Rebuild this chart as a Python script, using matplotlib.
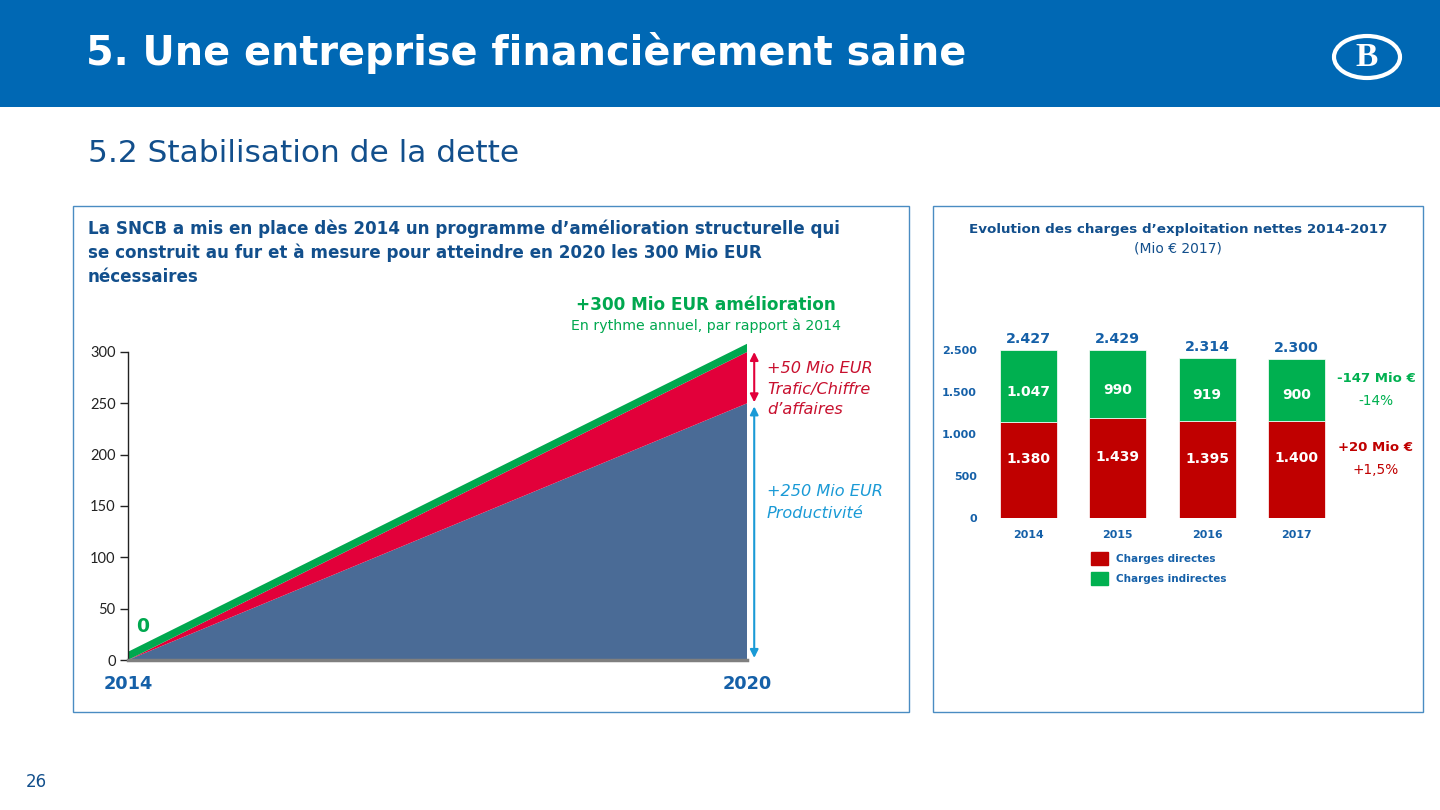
import matplotlib
matplotlib.use("Agg")
import matplotlib.pyplot as plt
from matplotlib.patches import Rectangle, Ellipse, Patch
import numpy as np

plt.rcParams['font.family'] = ['DejaVu Sans']

# ---------------- data ----------------
years_left = [2014, 2020]
productivite = [0, 250]
trafic = [0, 50]
bande = [8, 8]
left_yticks = [0, 50, 100, 150, 200, 250, 300]

years_right = ['2014', '2015', '2016', '2017']
directes = [1380, 1439, 1395, 1400]
indirectes = [1047, 990, 919, 900]
totaux = [2427, 2429, 2314, 2300]
right_tick_labels = ['0', '500', '1.000', '1.500', '2.500']

W, H = 1440, 810
fig = plt.figure(figsize=(W / 100, H / 100), dpi=100)
fig.patch.set_facecolor('white')

def fx(x):
    return x / W

def fy(y):
    return 1 - y / H

def axrect(l, t, r, b):
    return [fx(l), fy(b), (r - l) / W, (b - t) / H]

DARK = '#124f8c'
BORDER = '#4a8cc2'

# ---------------- header ----------------
fig.patches.append(Rectangle((0, fy(107)), 1, 107 / H, transform=fig.transFigure,
                             facecolor='#0068b4', edgecolor='none', zorder=0))
fig.text(fx(86), fy(53), '5. Une entreprise financièrement saine', color='white',
         fontsize=28.6, fontweight='bold', va='center', ha='left')
fig.patches.append(Ellipse((fx(1367), fy(57)), 66 / W, 42 / H, transform=fig.transFigure,
                           facecolor='none', edgecolor='white', linewidth=3, zorder=2))
fig.text(fx(1367), fy(58), 'B', color='white', fontsize=24, fontweight='bold',
         family=['Liberation Serif', 'DejaVu Serif'], ha='center', va='center')

fig.text(fx(88), fy(153), '5.2 Stabilisation de la dette', color=DARK,
         fontsize=22.5, va='center', ha='left')

# boxes
fig.patches.append(Rectangle((fx(73), fy(712)), (909 - 73) / W, (712 - 206) / H,
                             transform=fig.transFigure, facecolor='none',
                             edgecolor=BORDER, linewidth=1))
fig.patches.append(Rectangle((fx(933), fy(712)), (1423 - 933) / W, (712 - 206) / H,
                             transform=fig.transFigure, facecolor='none',
                             edgecolor=BORDER, linewidth=1))

for i, t in enumerate(["La SNCB a mis en place dès 2014 un programme d’amélioration structurelle qui",
                       "se construit au fur et à mesure pour atteindre en 2020 les 300 Mio EUR",
                       "nécessaires"]):
    fig.text(fx(88), fy(229 + 24 * i), t, color=DARK, fontsize=12.1, fontweight='bold',
             va='center')

fig.text(fx(36), fy(782), '26', color=DARK, fontsize=12, ha='center', va='center')

# ---------------- left chart ----------------
axL = fig.add_axes(axrect(128, 352, 747, 660))
blue_area = '#4a6b96'
red_area = '#e2003a'
green_area = '#00a84f'
axL.stackplot(years_left, productivite, trafic, bande,
              colors=[blue_area, red_area, green_area], linewidth=0)
for coll in axL.collections:
    coll.set_clip_on(False)
axL.set_xlim(2014, 2020)
axL.set_ylim(0, 300)
axL.set_yticks(left_yticks)
axL.tick_params(axis='y', length=6, width=1, colors='#222222', labelsize=10.5, pad=3)
for lab in axL.get_yticklabels():
    lab.set_family(['Lato', 'DejaVu Sans'])
axL.set_xticks(years_left)
axL.set_xticklabels([str(y) for y in years_left])
axL.tick_params(axis='x', length=0, pad=11, labelsize=12.8, labelcolor='#1560a8')
for lab in axL.get_xticklabels():
    lab.set_fontweight('bold')
for s in ['top', 'right']:
    axL.spines[s].set_visible(False)
axL.spines['left'].set_color('#222222')
axL.spines['left'].set_linewidth(1)
axL.spines['bottom'].set_color('#7f7f7f')
axL.spines['bottom'].set_linewidth(2.5)
axL.set_facecolor('none')

xa = 2020.07
axL.annotate('', xy=(xa, trafic[1] + productivite[1]), xytext=(xa, productivite[1] + 1),
             arrowprops=dict(arrowstyle='<|-|>', color=red_area, lw=1.5, mutation_scale=12,
                             shrinkA=0, shrinkB=0), annotation_clip=False)
axL.annotate('', xy=(xa, productivite[1] - 3), xytext=(xa, 2),
             arrowprops=dict(arrowstyle='<|-|>', color='#1a9ad6', lw=1.5, mutation_scale=12,
                             shrinkA=0, shrinkB=0), annotation_clip=False)

fig.text(fx(706), fy(305), '+300 Mio EUR amélioration', color='#00a84f', fontsize=12.2,
         fontweight='bold', ha='center', va='center')
fig.text(fx(706), fy(326), 'En rythme annuel, par rapport à 2014', color='#00a84f',
         fontsize=10.2, ha='center', va='center')
for i, t in enumerate(['+50 Mio EUR', 'Trafic/Chiffre', 'd’affaires']):
    fig.text(fx(767), fy(369 + 20.5 * i), t, color='#c8102e', fontsize=11.6,
             style='italic', ha='left', va='center')
for i, t in enumerate(['+250 Mio EUR', 'Productivité']):
    fig.text(fx(767), fy(492 + 21 * i), t, color='#1a9ad6', fontsize=11.6,
             style='italic', ha='left', va='center')
fig.text(fx(143), fy(626), '0', color='#00a84f', fontsize=13.5, fontweight='bold',
         ha='center', va='center')

# ---------------- right chart ----------------
pxu = 89.33
l_px, r_px = 985, 1340
axR = fig.add_axes(axrect(l_px, 300, r_px, 518))
x = np.arange(len(years_right))
c_red = '#c00000'
c_green = '#00b050'
b1 = axR.bar(x, directes, width=0.64, color=c_red, edgecolor='white', linewidth=0.5,
             label='Charges directes')
b2 = axR.bar(x, indirectes, width=0.64, bottom=directes, color=c_green, edgecolor='white',
             linewidth=0.5, label='Charges indirectes')
axR.set_xlim((l_px - 1028.5) / pxu, (r_px - 1028.5) / pxu)
scale = (518 - 350) / totaux[0]
axR.set_ylim(0, (518 - 300) / scale)

def fmt(v):
    return f'{v/1000:.3f}' if v >= 1000 else str(v)

axR.bar_label(b1, labels=[fmt(v) for v in directes],
              label_type='center', color='white', fontsize=10, fontweight='bold', padding=8)
axR.bar_label(b2, labels=[fmt(v) for v in indirectes],
              label_type='center', color='white', fontsize=10, fontweight='bold', padding=-4)
axR.bar_label(b2, labels=[fmt(v) for v in totaux], padding=3, color='#1560a8',
              fontsize=10.3, fontweight='bold')
axR.set_yticks(np.linspace(0, totaux[0], len(right_tick_labels)))
axR.set_yticklabels(right_tick_labels)
axR.tick_params(axis='y', length=0, pad=6, labelsize=8, labelcolor='#1560a8')
axR.set_xticks(x)
axR.set_xticklabels(years_right)
axR.tick_params(axis='x', length=0, pad=9, labelsize=7.9, labelcolor='#1560a8')
for lab in axR.get_xticklabels() + axR.get_yticklabels():
    lab.set_fontweight('bold')
for s in axR.spines.values():
    s.set_visible(False)
axR.set_facecolor('none')

fig.text(fx(1178), fy(229), 'Evolution des charges d’exploitation nettes 2014-2017',
         color=DARK, fontsize=9.7, fontweight='bold', ha='center', va='center')
fig.text(fx(1178), fy(248), '(Mio € 2017)', color=DARK, fontsize=10, ha='center', va='center')

fig.text(fx(1376), fy(379), '-147 Mio €', color=c_green, fontsize=9.5, fontweight='bold',
         ha='center', va='center')
fig.text(fx(1376), fy(401), '-14%', color=c_green, fontsize=9.8, ha='center', va='center')
fig.text(fx(1376), fy(448), '+20 Mio €', color=c_red, fontsize=9.5, fontweight='bold',
         ha='center', va='center')
fig.text(fx(1376), fy(470), '+1,5%', color=c_red, fontsize=9.8, ha='center', va='center')

leg = fig.legend(handles=[Patch(color=c_red), Patch(color=c_green)],
                 labels=['Charges directes', 'Charges indirectes'],
                 loc='upper left', bbox_to_anchor=(fx(1091), fy(552)), frameon=False,
                 handlelength=1.6, handleheight=1.6, handletextpad=0.8, labelspacing=0.6,
                 borderaxespad=0, borderpad=0,
                 prop={'size': 7.5, 'weight': 'bold'})
for t in leg.get_texts():
    t.set_color('#1560a8')

fig.savefig('out.png', dpi=100)
